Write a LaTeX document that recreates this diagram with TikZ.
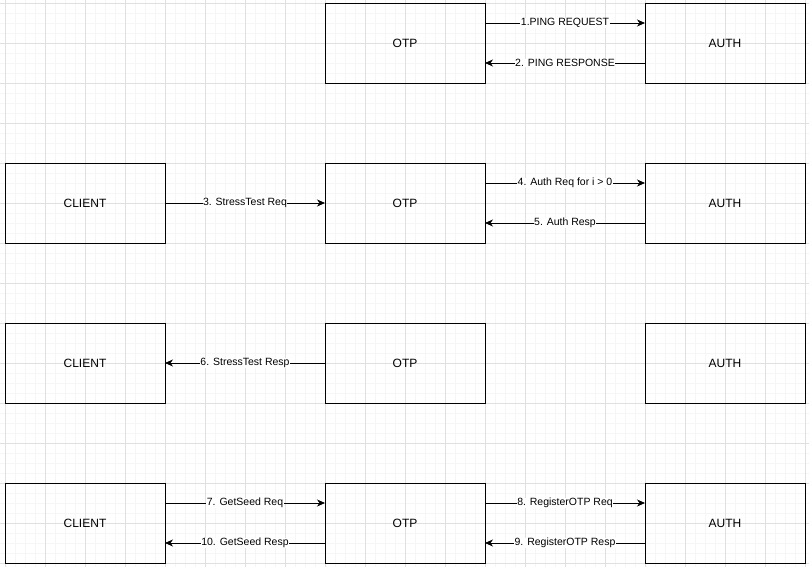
\documentclass[tikz,border=0pt]{standalone}
\usepackage{fontspec}
\setmainfont{Liberation Sans}
\usetikzlibrary{arrows.meta, positioning}
\definecolor{gridmajor}{HTML}{E0E0E0}
\definecolor{gridminor}{HTML}{F6F6F6}
\tikzset{
  box/.style={draw, line width=0.8pt, minimum width=160pt, minimum height=80pt,
    inner sep=0pt, outer sep=0pt, font=\fontsize{12pt}{14pt}\selectfont},
  msg/.style={->, line width=0.8pt},
  tag/.style={midway, fill=white, inner sep=0.5pt, font=\fontsize{10.5pt}{12pt}\selectfont}
}
\begin{document}
\begin{tikzpicture}[>={Stealth[length=8pt,width=7pt,inset=2.5pt]}, node distance=80pt and 160pt]
  \useasboundingbox (0,0) rectangle (809pt,-567pt);
  % background grid
  \begin{scope}[shift={(5pt,-3pt)}]
    \draw[gridminor, line width=0.4pt, step=10pt] (-5pt,3pt) grid (804pt,-564pt);
    \draw[gridmajor, line width=0.6pt, step=40pt] (-5pt,3pt) grid (804pt,-564pt);
  \end{scope}

  % row 1: ping
  \node[box] (OTP1) at (405pt,-43pt) {OTP};
  \node[box, right=of OTP1] (AUTH1) {AUTH};
  % row 2: stress test request
  \node[box, below=of OTP1] (OTP2) {OTP};
  \node[box, left=of OTP2] (CLIENT2) {CLIENT};
  \node[box, right=of OTP2] (AUTH2) {AUTH};
  % row 3: stress test response
  \node[box, below=of OTP2] (OTP3) {OTP};
  \node[box, left=of OTP3] (CLIENT3) {CLIENT};
  \node[box, right=of OTP3] (AUTH3) {AUTH};
  % row 4: seed and register
  \node[box, below=of OTP3] (OTP4) {OTP};
  \node[box, left=of OTP4] (CLIENT4) {CLIENT};
  \node[box, right=of OTP4] (AUTH4) {AUTH};

  \draw[msg] ([yshift=20pt]OTP1.east) -- ([yshift=20pt]AUTH1.west)
        node[tag] {1.PING REQUEST};
  \draw[msg] ([yshift=-20pt]AUTH1.west) -- ([yshift=-20pt]OTP1.east)
        node[tag] {2. PING RESPONSE};
  \draw[msg] (CLIENT2) -- (OTP2) node[tag] {3. StressTest Req};
  \draw[msg] ([yshift=20pt]OTP2.east) -- ([yshift=20pt]AUTH2.west)
        node[tag] {4. Auth Req for i > 0};
  \draw[msg] ([yshift=-20pt]AUTH2.west) -- ([yshift=-20pt]OTP2.east)
        node[tag] {5. Auth Resp};
  \draw[msg] (OTP3) -- (CLIENT3) node[tag] {6. StressTest Resp};
  \draw[msg] ([yshift=20pt]CLIENT4.east) -- ([yshift=20pt]OTP4.west)
        node[tag] {7. GetSeed Req};
  \draw[msg] ([yshift=20pt]OTP4.east) -- ([yshift=20pt]AUTH4.west)
        node[tag] {8. RegisterOTP Req};
  \draw[msg] ([yshift=-20pt]AUTH4.west) -- ([yshift=-20pt]OTP4.east)
        node[tag] {9. RegisterOTP Resp};
  \draw[msg] ([yshift=-20pt]OTP4.west) -- ([yshift=-20pt]CLIENT4.east)
        node[tag] {10. GetSeed Resp};
\end{tikzpicture}
\end{document}
